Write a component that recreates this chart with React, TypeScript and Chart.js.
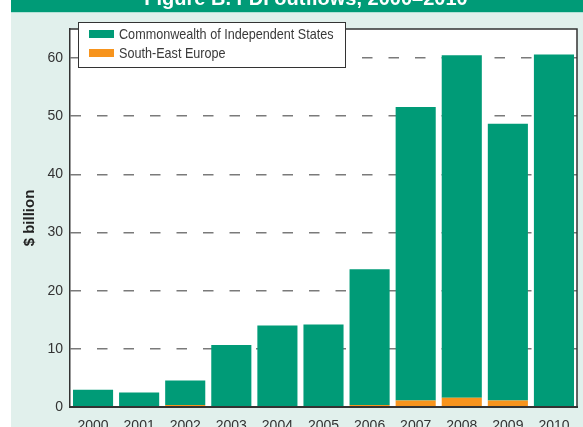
import React, { useEffect, useRef } from "react";
import { Chart, registerables } from "chart.js";

Chart.register(...registerables);

const titleText = "Figure B. FDI outflows, 2000\u20132010";
const yAxisTitle = "$ billion";
const years = ["2000", "2001", "2002", "2003", "2004", "2005", "2006", "2007", "2008", "2009", "2010"];
const seriesNames = ["Commonwealth of Independent States", "South-East Europe"];
const cisValues = [2.95, 2.45, 4.2, 10.55, 13.9, 14.05, 23.35, 50.5, 58.9, 47.6, 60.55];
const seeValues = [0.02, 0.06, 0.35, 0.1, 0.1, 0.15, 0.35, 1.1, 1.6, 1.1, 0.06];
const yTicks = [0, 10, 20, 30, 40, 50, 60];

const GREEN = "#009B77";
const ORANGE = "#F7941D";
const MINT = "#E1F0EC";
const DARK = "#333333";
const FONT = "'Liberation Sans', Arial, sans-serif";

const W = 583;
const H = 445;

const decorPlugin = {
  id: "decor",
  beforeDraw(chart: any) {
    const { ctx, chartArea } = chart;
    ctx.save();
    ctx.fillStyle = "#ffffff";
    ctx.fillRect(0, 0, W, H);
    ctx.fillStyle = MINT;
    ctx.fillRect(11, 13, W - 11, H - 13);
    ctx.fillStyle = GREEN;
    ctx.fillRect(11, 0, W - 11, 12.3);
    ctx.fillStyle = "#ffffff";
    ctx.font = `bold 20px ${FONT}`;
    ctx.textAlign = "center";
    ctx.textBaseline = "alphabetic";
    ctx.fillText(titleText, 306, 5);
    ctx.fillStyle = "#ffffff";
    ctx.fillRect(chartArea.left, chartArea.top, chartArea.right - chartArea.left, chartArea.bottom - chartArea.top);
    ctx.restore();
  },
  afterDatasetsDraw(chart: any) {
    const { ctx, chartArea } = chart;
    ctx.save();
    ctx.strokeStyle = DARK;
    ctx.lineWidth = 1.5;
    ctx.beginPath();
    ctx.moveTo(chartArea.left, chartArea.top);
    ctx.lineTo(chartArea.right, chartArea.top);
    ctx.lineTo(chartArea.right, chartArea.bottom);
    ctx.stroke();
    ctx.restore();
  },
  afterDraw(chart: any) {
    const { ctx } = chart;
    ctx.save();
    ctx.fillStyle = "#ffffff";
    ctx.fillRect(78, 22, 267, 45);
    ctx.strokeStyle = DARK;
    ctx.lineWidth = 1;
    ctx.strokeRect(78.5, 22.5, 267, 45);
    const items = [
      { text: seriesNames[0], color: GREEN, y: 34 },
      { text: seriesNames[1], color: ORANGE, y: 53 },
    ];
    for (const it of items) {
      ctx.fillStyle = it.color;
      ctx.fillRect(89, it.y - 4, 25, 8);
      ctx.save();
      ctx.translate(119, it.y + 0.5);
      ctx.scale(0.87, 1);
      ctx.font = `14.5px ${FONT}`;
      ctx.textAlign = "left";
      ctx.textBaseline = "middle";
      ctx.fillStyle = "#3a3a3a";
      ctx.fillText(it.text, 0, 0);
      ctx.restore();
    }
    ctx.restore();
  },
};

export default function App() {
  const ref = useRef<HTMLCanvasElement>(null);
  useEffect(() => {
    document.body.style.margin = "0";
    document.body.style.overflow = "hidden";
    const chart = new Chart(ref.current as HTMLCanvasElement, {
      type: "bar",
      data: {
        labels: years,
        datasets: [
          { label: seriesNames[1], data: seeValues, backgroundColor: ORANGE, stack: "s" },
          { label: seriesNames[0], data: cisValues, backgroundColor: GREEN, stack: "s" },
        ],
      },
      options: {
        responsive: false,
        maintainAspectRatio: false,
        animation: false,
        layout: { padding: { top: 29, right: 6, left: 0, bottom: 0 } },
        datasets: { bar: { barPercentage: 0.87, categoryPercentage: 1 } },
        plugins: {
          legend: { display: false },
          title: { display: false },
          tooltip: { enabled: false },
        },
        scales: {
          x: {
            stacked: true,
            grid: { display: false },
            border: { color: DARK, width: 2, z: 1 },
            ticks: { color: DARK, font: { family: FONT, size: 14 }, padding: 3, maxRotation: 0, autoSkip: false },
            afterFit: (s: any) => {
              s.height = 38;
            },
          },
          y: {
            stacked: true,
            min: 0,
            max: 65,
            afterBuildTicks: (s: any) => {
              s.ticks = yTicks.map((v) => ({ value: v }));
            },
            grid: { color: "#7a7a7a", lineWidth: 1.5, drawTicks: false },
            border: { color: DARK, width: 1.5, dash: [10.5, 16], z: 1 },
            ticks: { color: DARK, font: { family: FONT, size: 14 }, padding: 7 },
            title: {
              display: true,
              text: yAxisTitle,
              color: "#222222",
              font: { family: FONT, size: 15, weight: "bold" },
              padding: { top: 21, bottom: 0 },
            },
            afterFit: (s: any) => {
              s.width = 70;
            },
          },
        },
      } as any,
      plugins: [decorPlugin],
    });
    return () => chart.destroy();
  }, []);
  return (
    <div style={{ width: W, height: 427, overflow: "hidden", position: "relative" }}>
      <canvas ref={ref} width={W} height={H} style={{ display: "block", width: W, height: H }} />
    </div>
  );
}
